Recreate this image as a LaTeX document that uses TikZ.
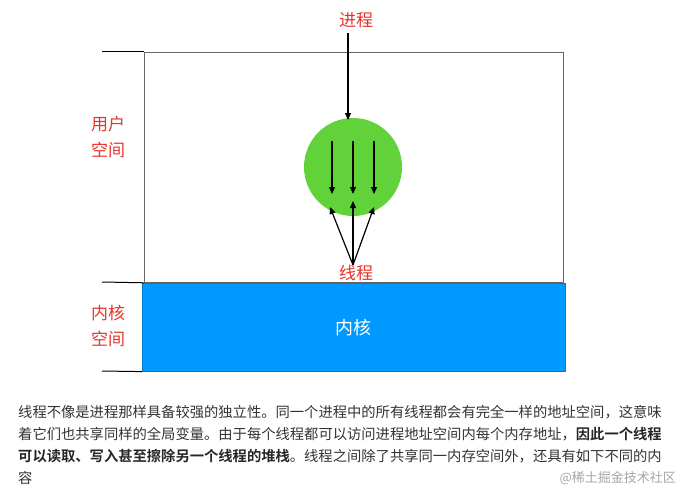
\documentclass[tikz,border=0pt]{standalone}
\usepackage{fontspec}
\newfontfamily\cjk{Noto Sans CJK SC}
\newfontfamily\cjkb{Noto Sans CJK SC Bold}
\usetikzlibrary{arrows.meta}
\definecolor{lab}{HTML}{E8332A}
\definecolor{kern}{HTML}{0099FF}
\definecolor{thr}{HTML}{62D23A}
\definecolor{txt}{HTML}{333333}
\tikzset{
  redlab/.style={text=lab,font=\cjk\fontsize{17}{22}\selectfont,align=center,inner sep=0},
  arr/.style={-{Triangle[length=7pt,width=6pt]},line width=1.2pt},
  para/.style={anchor=west,inner sep=0,text=txt,font=\cjk\fontsize{14.3}{18}\selectfont},
}
\begin{document}
\begin{tikzpicture}[x=1pt,y=-1pt]
\useasboundingbox (0,0) rectangle (688,503);
\node[draw=black!60,line width=0.8pt,minimum width=419pt,minimum height=230pt,anchor=north west,inner sep=0] (user) at (144,52) {};
\node[fill=kern,draw=kern!80!black,line width=0.6pt,minimum width=423pt,minimum height=88pt,anchor=north west,inner sep=0,text=white,font=\cjk\fontsize{18}{22}\selectfont] (kernel) at (142,283) {内核};
\coordinate (t1) at (102,52); \coordinate (t2) at (102,282); \coordinate (t3) at (102,371);
\draw[line width=1pt] (t1) -- (user.north west);
\draw[line width=1pt] (t2) -- (user.south west);
\draw[line width=1pt] (t3) -- (kernel.south west);
\node[redlab] (us) at (108,137) {用户\\[4pt]空间};
\node[redlab] (ks) at (108,326) {内核\\[4pt]空间};
\node[redlab] (proc) at (356,20) {进程};
\node[circle,fill=thr,minimum size=98pt,inner sep=0] (c) at (353,167) {};
\node[redlab,anchor=center] (th) at (356,273) {线程};
\coordinate (ps) at (348,33);
\draw[arr] (ps) -- (348,120);
\coordinate (a1) at (332,141); \coordinate (b1) at (332,194);
\coordinate (a2) at (353,141); \coordinate (b2) at (353,194);
\coordinate (a3) at (374,141); \coordinate (b3) at (374,194);
\draw[arr] (a1) -- (b1); \draw[arr] (a2) -- (b2); \draw[arr] (a3) -- (b3);
\coordinate (o) at (353,265);
\draw[arr] (o) -- (330,207); \draw[arr] (o) -- (353,201); \draw[arr] (o) -- (374,207);
\node[para] (l1) at (18,412) {线程不像是进程那样具备较强的独立性。同一个进程中的所有线程都会有完全一样的地址空间，这意味};
\node[para] (l2) at (18,434) {着它们也共享同样的全局变量。由于每个线程都可以访问进程地址空间内每个内存地址，{\cjkb\color{black!85}因此一个线程}};
\node[para] (l3) at (18,456) {{\cjkb\color{black!85}可以读取、写入甚至擦除另一个线程的堆栈}。线程之间除了共享同一内存空间外，还具有如下不同的内};
\node[para] (l4) at (18,478) {容};
\node[anchor=east,inner sep=0,text=black!35,font=\cjk\fontsize{13}{16}\selectfont] (wm) at (676,478) {@稀土掘金技术社区};
\end{tikzpicture}
\end{document}
